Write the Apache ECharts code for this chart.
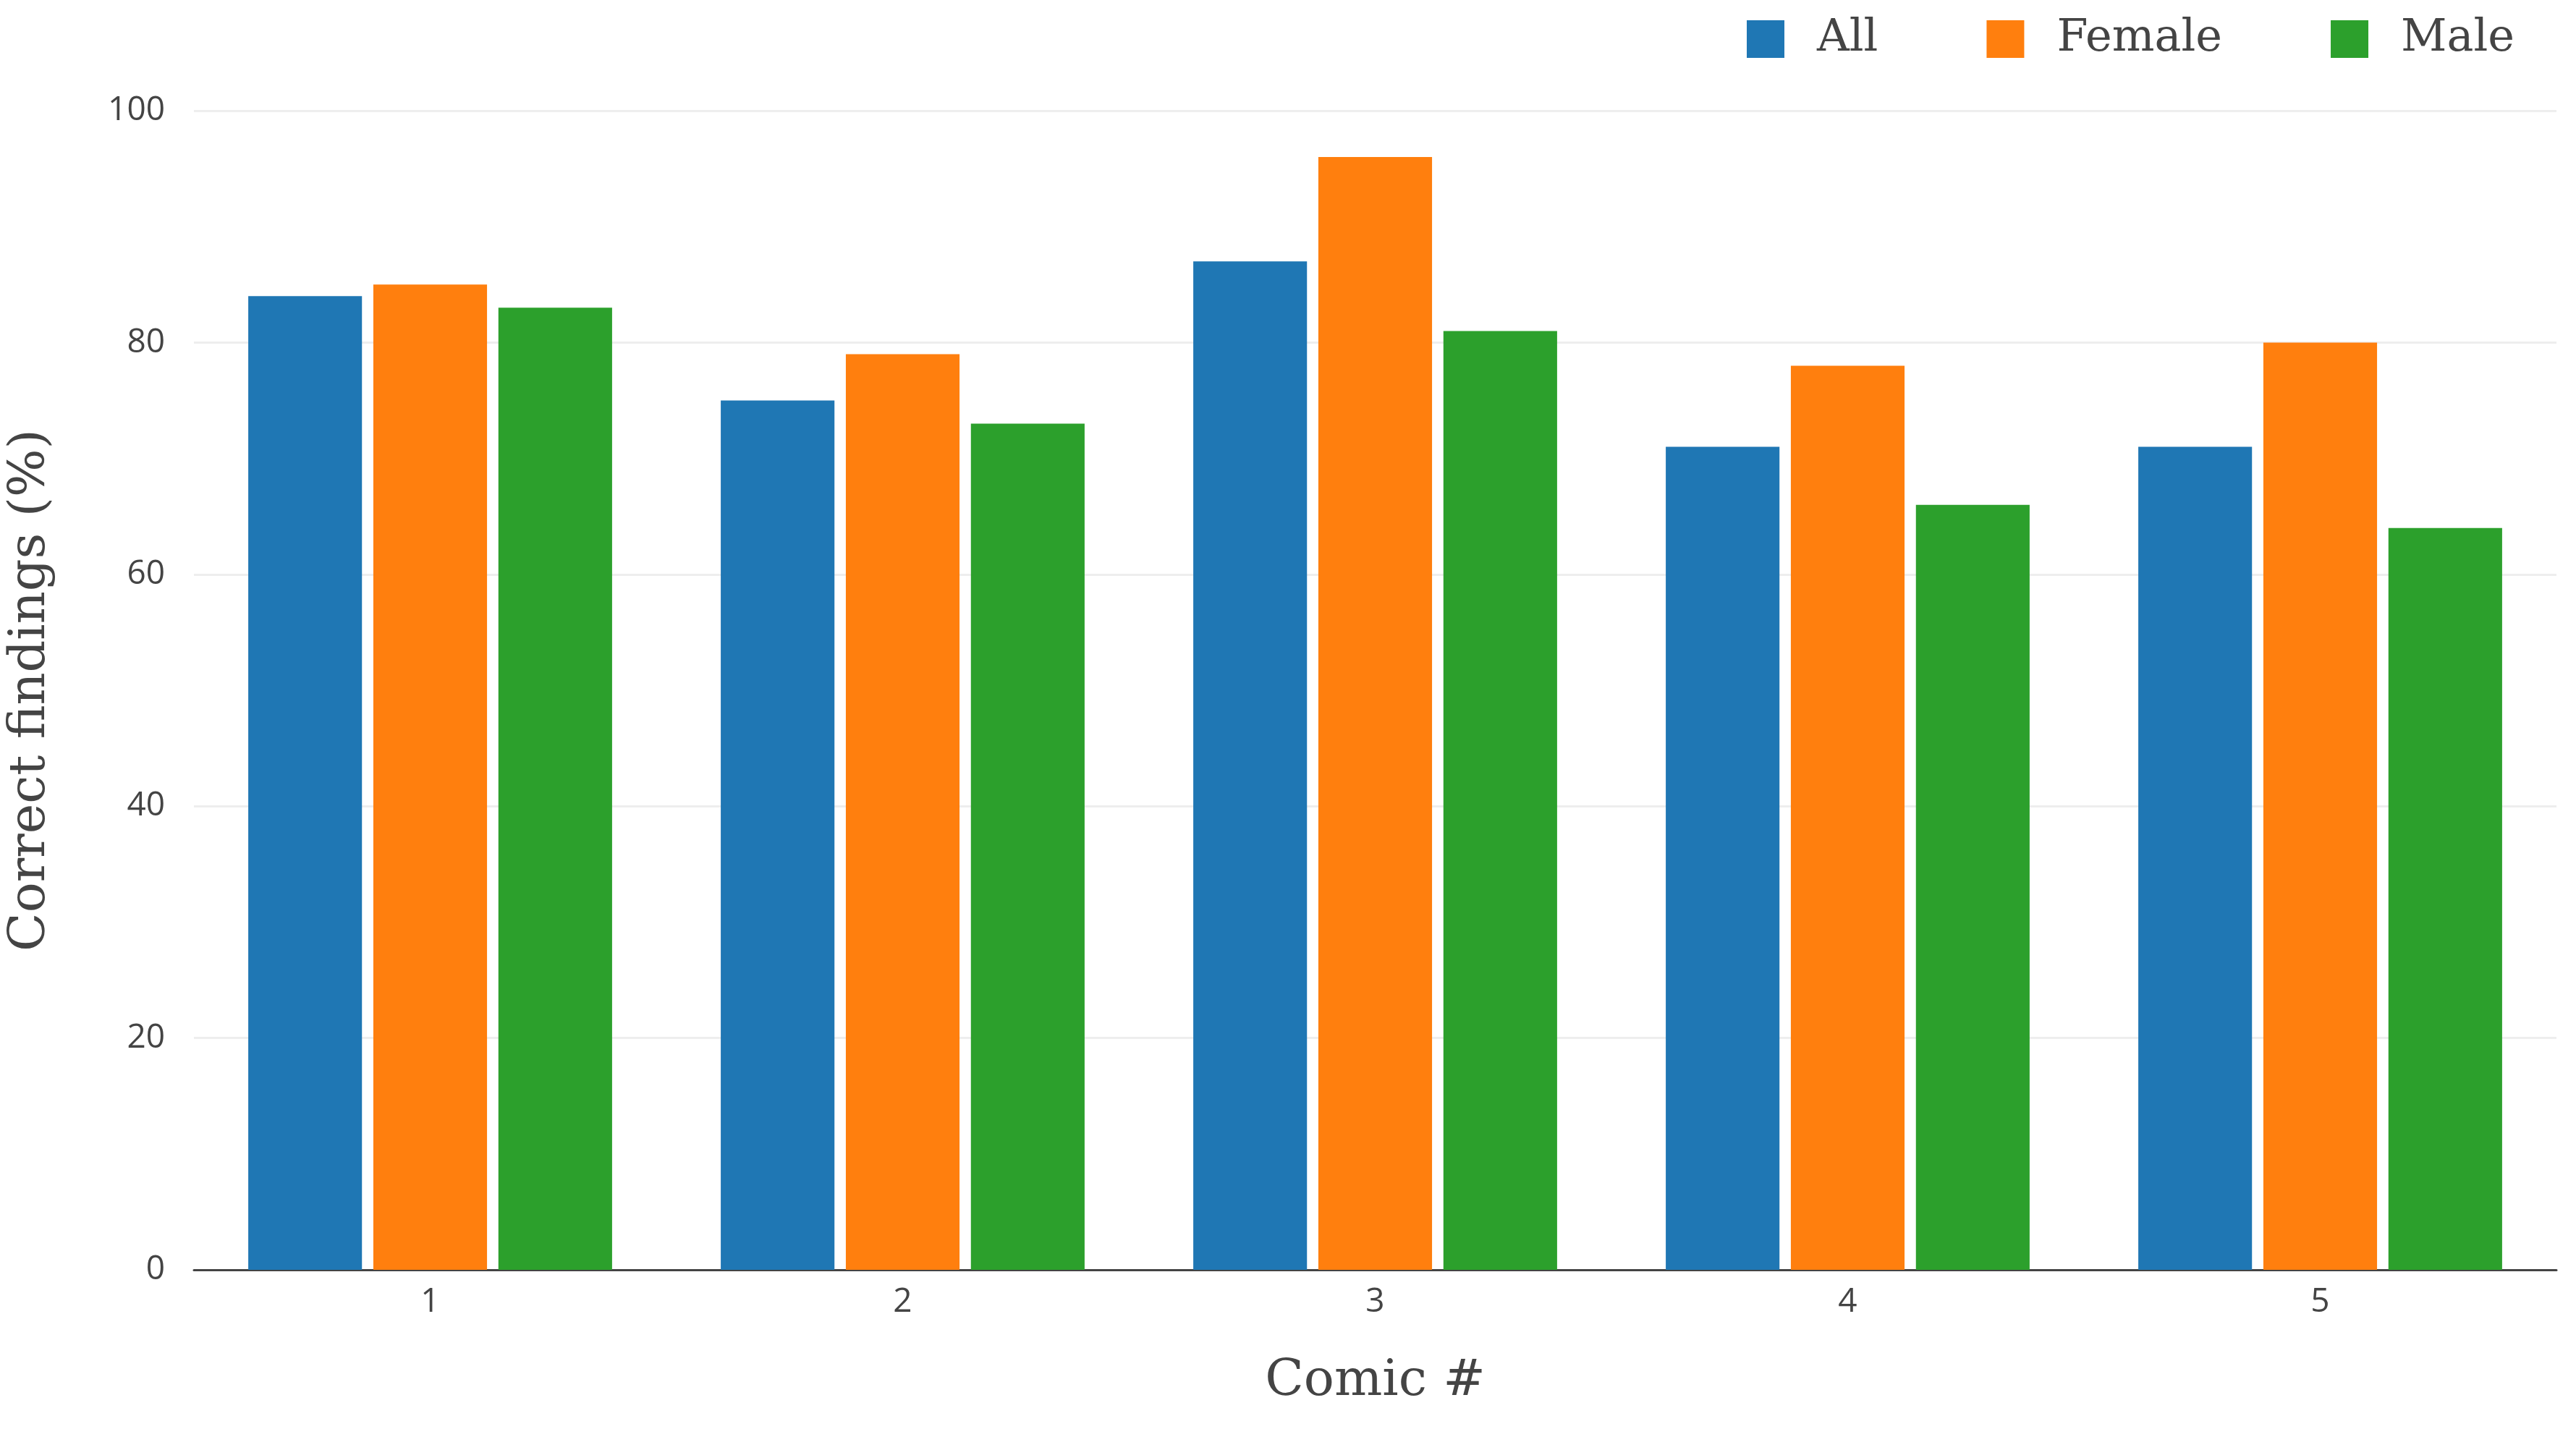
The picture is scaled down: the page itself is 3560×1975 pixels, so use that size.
<!DOCTYPE html>
<html><head><meta charset="utf-8">
<script src="https://cdn.jsdelivr.net/npm/echarts@6/dist/echarts.min.js"></script>
<style>html,body{margin:0;background:#fff}#chart{width:3560px;height:1975px}</style>
</head><body><div id="chart"></div>
<script>
// 数据
const comics = ['1', '2', '3', '4', '5'];
const allVals = [84, 75, 87, 71, 71];
const femaleVals = [85, 79, 96, 78, 80];
const maleVals = [83, 73, 81, 66, 64];

let myChart = echarts.init(document.getElementById('chart'));
const serif = 'DejaVu Serif';
const bar = (name, data, color) => ({
  name: name, type: 'bar', data: data, barGap: '10%', barCategoryGap: '23%',
  itemStyle: { color: color }
});
myChart.setOption({
  animation: false,
  legend: {
    right: 80, top: 18, itemWidth: 52, itemHeight: 52, itemGap: 150,
    icon: 'rect',
    textStyle: { fontFamily: serif, fontSize: 62, color: '#444', padding: [0, 0, 0, 40] },
    data: ['All', 'Female', 'Male']
  },
  grid: { left: 268, right: 27, top: 153, bottom: 220 },
  xAxis: {
    type: 'category', data: comics,
    name: 'Comic #', nameLocation: 'middle', nameGap: 120,
    nameTextStyle: { fontFamily: serif, fontSize: 70, color: '#444' },
    axisTick: { show: false },
    axisLine: { lineStyle: { color: '#444', width: 3 } },
    axisLabel: { fontFamily: 'Open Sans', fontSize: 46, color: '#444', margin: 22 }
  },
  yAxis: {
    type: 'value', min: 0, max: 100, interval: 20,
    name: 'Correct findings (%)', nameLocation: 'middle', nameGap: 190,
    nameTextStyle: { fontFamily: serif, fontSize: 70, color: '#444' },
    axisLabel: { fontFamily: 'Open Sans', fontSize: 46, color: '#444', margin: 40 },
    splitLine: { lineStyle: { color: '#eee', width: 3 } }
  },
  series: [
    bar('All', allVals, '#1f77b4'),
    bar('Female', femaleVals, '#ff7f0e'),
    bar('Male', maleVals, '#2ca02c')
  ]
});
</script></body></html>
